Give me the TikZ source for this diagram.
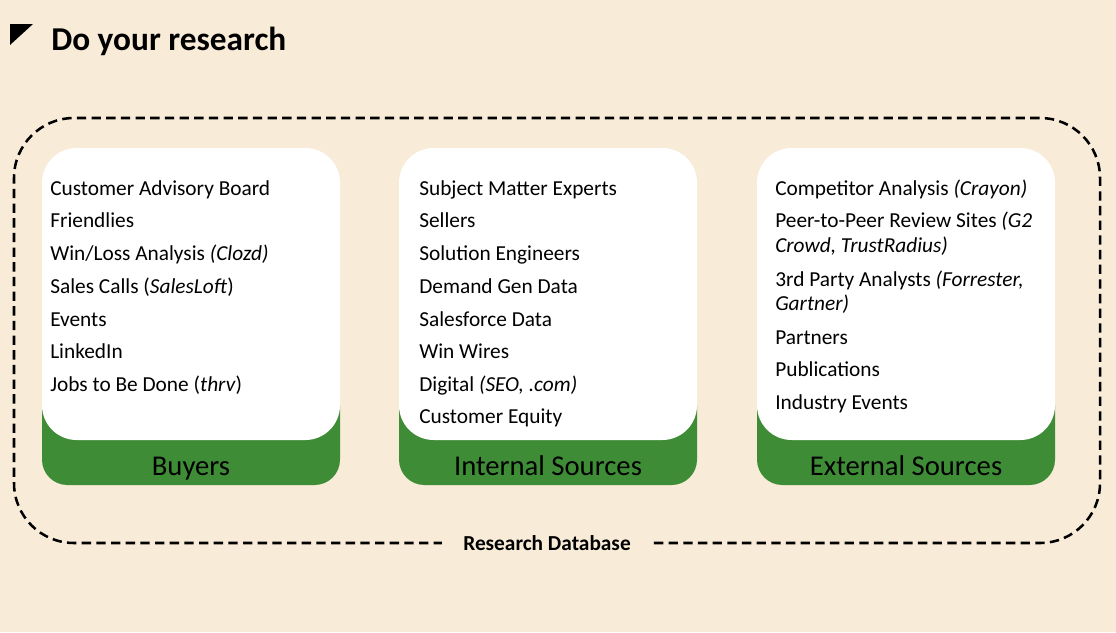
\documentclass[tikz,border=0pt]{standalone}
\usepackage{fontspec}
\setmainfont{Carlito}
\definecolor{bg}{HTML}{F8EBD8}
\definecolor{grn}{HTML}{3E8D36}
\tikzset{
  item/.style={anchor=mid west, inner sep=0pt, font=\fontsize{16}{18}\selectfont},
  glabel/.style={anchor=base, inner sep=0pt, font=\fontsize{21.5}{24}\selectfont},
  whitebox/.style={fill=white, rounded corners=26pt},
  greenbox/.style={fill=grn, rounded corners=19pt},
  dbline/.style={line width=1.9pt, dash pattern=on 7pt off 4pt, rounded corners=45pt}
}
\begin{document}
\begin{tikzpicture}[x=0.75pt,y=-0.75pt]
\useasboundingbox (0,0) rectangle (1116,632);
\fill[bg] (0,0) rectangle (1116,632);
% title
\fill[black] (10,24) -- (33,24) -- (10,45) -- cycle;
\node[anchor=mid west, inner sep=0pt, font=\fontsize{25}{28}\bfseries] (title) at (51,47) {Do your research};
% dashed frame
\draw[dbline] (547,543) -- (14,543) -- (14,118) -- (1100,118) -- (1100,543) -- cycle;
\node[fill=bg, inner xsep=16pt, inner ysep=2pt, font=\fontsize{16}{18}\bfseries] (db) at (547,543) {Research Database};
% boxes
\foreach \x/\n/\l in {42/b/Buyers, 399/i/Internal Sources, 757/e/External Sources}{
  \fill[greenbox] (\x,380) rectangle ++(298,105);
  \fill[whitebox] (\x,148) rectangle ++(298,292);
  \node[glabel] (\n lab) at (\x+149,475) {\l};
}
% buyers
\node[item] (b1) at (50,192) {Customer Advisory Board};
\node[item] (b2) at (50,224) {Friendlies};
\node[item] (b3) at (50,257) {Win/Loss Analysis \textit{(Clozd)}};
\node[item] (b4) at (50,290) {Sales Calls (\textit{SalesLoft})};
\node[item] (b5) at (50,323) {Events};
\node[item] (b6) at (50,355) {LinkedIn};
\node[item] (b7) at (50,388) {Jobs to Be Done (\textit{thrv})};
% internal
\node[item] (i1) at (419,192) {Subject Matter Experts};
\node[item] (i2) at (419,224) {Sellers};
\node[item] (i3) at (419,257) {Solution Engineers};
\node[item] (i4) at (419,290) {Demand Gen Data};
\node[item] (i5) at (419,323) {Salesforce Data};
\node[item] (i6) at (419,355) {Win Wires};
\node[item] (i7) at (419,388) {Digital \textit{(SEO, .com)}};
\node[item] (i8) at (419,420) {Customer Equity};
% external
\node[item] (e1) at (775,192) {Competitor Analysis \textit{(Crayon)}};
\node[item] (e2) at (775,224) {Peer-to-Peer Review Sites \textit{(G2}};
\node[item] (e2b) at (775,249) {\textit{Crowd, TrustRadius)}};
\node[item] (e3) at (775,283) {3rd Party Analysts \textit{(Forrester,}};
\node[item] (e3b) at (775,307) {\textit{Gartner)}};
\node[item] (e4) at (775,341) {Partners};
\node[item] (e5) at (775,373) {Publications};
\node[item] (e6) at (775,406) {Industry Events};
\end{tikzpicture}
\end{document}
